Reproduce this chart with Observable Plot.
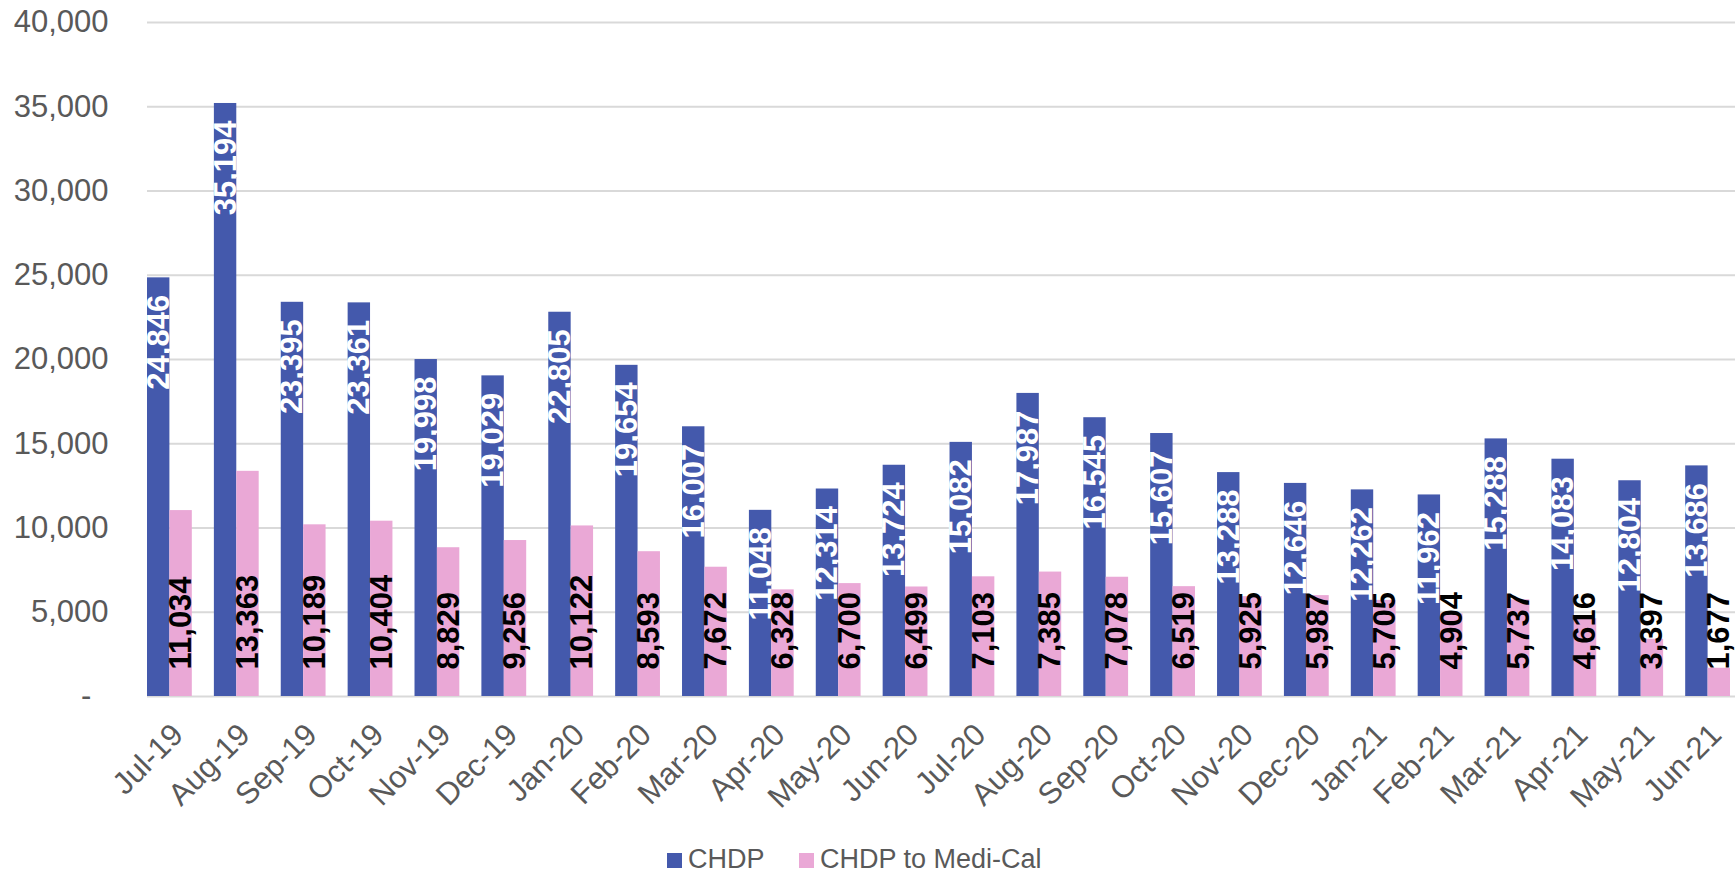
<!DOCTYPE html>
<html>
<head>
<meta charset="utf-8">
<script src="https://cdn.jsdelivr.net/npm/d3@7"></script>
<script src="https://cdn.jsdelivr.net/npm/@observablehq/plot@0.6"></script>
<style>
  html, body { margin: 0; padding: 0; background: #fff; }
  body { width: 1735px; height: 876px; position: relative; overflow: hidden; font-family: "Liberation Sans", Arial, sans-serif; }
  #legend { position: absolute; left: 0; top: 846px; width: 1735px; height: 30px; font-size: 27px; line-height: 27px; color: #595959; }
  #legend .sw { position: absolute; width: 15px; height: 15px; top: 7px; }
  #legend .lb { position: absolute; top: 0; white-space: nowrap; }
</style>
</head>
<body>
<div id="chart"></div>
<div id="legend"></div>
<script>
const months = ["Jul-19","Aug-19","Sep-19","Oct-19","Nov-19","Dec-19","Jan-20","Feb-20","Mar-20","Apr-20","May-20","Jun-20",
                "Jul-20","Aug-20","Sep-20","Oct-20","Nov-20","Dec-20","Jan-21","Feb-21","Mar-21","Apr-21","May-21","Jun-21"];
const chdp = [24846,35194,23395,23361,19998,19029,22805,19654,16007,11048,12314,13724,
              15082,17987,16545,15607,13288,12646,12262,11962,15288,14083,12804,13686];
const chdpToMediCal = [11034,13363,10189,10404,8829,9256,10122,8593,7672,6328,6700,6499,
                       7103,7385,7078,6519,5925,5987,5705,4904,5737,4616,3397,1677];
const yTicks = [0,5000,10000,15000,20000,25000,30000,35000,40000];
const seriesNames = ["CHDP", "CHDP to Medi-Cal"];
const colors = ["#4459AC", "#EAA8D6"];

const rows = months.map((m, i) => ({month: m, chdp: chdp[i], medi: chdpToMediCal[i]}));
const fmt = d3.format(",");

const x0 = 147, x1 = 1730, padIn = 0.33;
const step = (x1 - x0) / (months.length - padIn);
const half = step * (1 - padIn) / 2;

const font = "Liberation Sans, Arial, sans-serif";

const chart = Plot.plot({
  width: 1735,
  height: 836,
  marginLeft: 147,
  marginRight: 0,
  marginTop: 22,
  marginBottom: 140,
  style: {fontFamily: font, fontSize: "31px", color: "#595959", background: "#fff"},
  x: {domain: months, range: [x0, x1], paddingInner: padIn, paddingOuter: 0, round: false, axis: null},
  y: {domain: [0, 40000], ticks: yTicks, tickSize: 0, tickPadding: 39, label: null,
      tickFormat: d => d === 0 ? "-\u00a0\u00a0" : fmt(d)},
  marks: [
    Plot.ruleY(yTicks, {stroke: "#d9d9d9", strokeWidth: 2}),
    Plot.barY(rows, {x: "month", y: "chdp", fill: colors[0], insetLeft: 0, insetRight: half}),
    Plot.barY(rows, {x: "month", y: "medi", fill: colors[1], insetLeft: half, insetRight: 0}),
    Plot.text(rows, {x: "month", y: "chdp", text: d => fmt(d.chdp), rotate: -90, textAnchor: "end",
      lineAnchor: "middle", dx: -half / 2, dy: 17, fill: "white", fontWeight: "bold", fontSize: 31, fontFamily: font}),
    Plot.text(rows, {x: "month", y: () => 0, text: d => fmt(d.medi), rotate: -90, textAnchor: "start",
      lineAnchor: "middle", dx: half / 2, dy: -27, fill: "black", fontWeight: "bold", fontSize: 31, fontFamily: font}),
    Plot.text(months, {x: d => d, frameAnchor: "bottom", text: d => d, rotate: -45, textAnchor: "end",
      lineAnchor: "bottom", dx: 15, dy: 40, fill: "#595959", fontSize: 31, fontFamily: font})
  ]
});
document.getElementById("chart").appendChild(chart);

// legend
const legend = document.getElementById("legend");
const items = [{x: 667, name: seriesNames[0], color: colors[0]}, {x: 799, name: seriesNames[1], color: colors[1]}];
for (const it of items) {
  const sw = document.createElement("span");
  sw.className = "sw";
  sw.style.left = it.x + "px";
  sw.style.background = it.color;
  legend.appendChild(sw);
  const lb = document.createElement("span");
  lb.className = "lb";
  lb.style.left = (it.x + 21) + "px";
  lb.textContent = it.name;
  legend.appendChild(lb);
}
</script>
</body>
</html>
